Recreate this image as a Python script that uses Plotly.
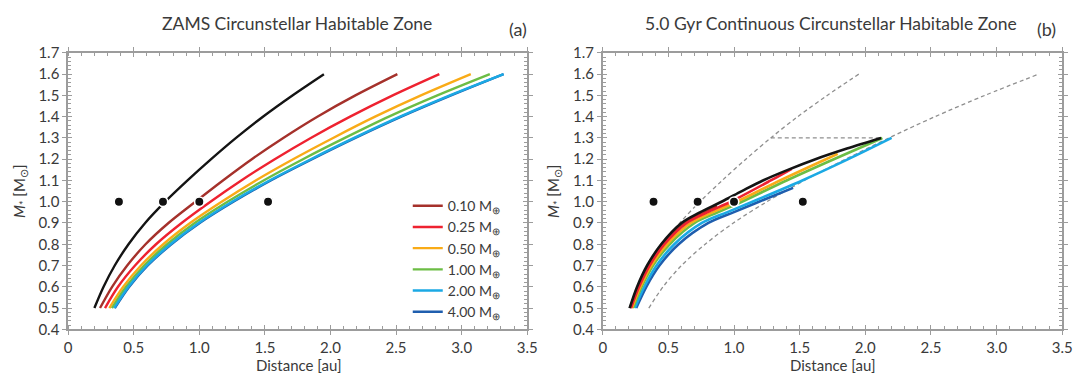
import plotly.graph_objects as go

# ---- data -----------------------------------------------------------------
# Stellar mass grid (solar masses) for the ZAMS habitable-zone curves
mass_zams = [0.5, 0.6, 0.7, 0.8, 0.9, 1.0, 1.1, 1.2, 1.3, 1.4, 1.5, 1.6]

# ZAMS distances [au]
zams_inner = [0.20, 0.27, 0.355, 0.46, 0.587, 0.74, 0.91, 1.09, 1.28, 1.485, 1.71, 1.95]
zams_010 = [0.243, 0.335, 0.45, 0.59, 0.765, 0.97, 1.18, 1.40, 1.64, 1.90, 2.19, 2.51]
zams_025 = [0.281, 0.38, 0.51, 0.67, 0.865, 1.085, 1.32, 1.575, 1.85, 2.15, 2.475, 2.83]
zams_050 = [0.314, 0.42, 0.555, 0.725, 0.93, 1.17, 1.43, 1.715, 2.02, 2.34, 2.69, 3.07]
zams_100 = [0.334, 0.442, 0.58, 0.755, 0.965, 1.215, 1.49, 1.79, 2.11, 2.445, 2.815, 3.215]
zams_200 = [0.351, 0.46, 0.60, 0.78, 0.995, 1.25, 1.535, 1.85, 2.18, 2.53, 2.91, 3.32]
zams_400 = [0.356, 0.466, 0.607, 0.787, 1.003, 1.26, 1.545, 1.86, 2.19, 2.54, 2.92, 3.32]

# 5.0 Gyr continuous habitable zone: each curve has its own mass range
cont_inner_m = [0.5, 0.6, 0.7, 0.8, 0.9, 0.95, 1.0, 1.05, 1.1, 1.15, 1.2, 1.25, 1.3]
cont_inner_d = [0.205, 0.262, 0.338, 0.445, 0.60, 0.74, 0.905, 1.06, 1.22, 1.41, 1.62, 1.86, 2.12]
cont_010_m = [0.5, 0.6, 0.7, 0.8, 0.9, 0.95, 0.98]
cont_010_d = [0.21, 0.27, 0.347, 0.457, 0.62, 0.765, 0.87]
cont_025_m = [0.5, 0.6, 0.7, 0.8, 0.9, 0.95, 1.0, 1.1, 1.155]
cont_025_d = [0.215, 0.277, 0.357, 0.47, 0.64, 0.795, 0.975, 1.28, 1.44]
cont_050_m = [0.5, 0.6, 0.7, 0.8, 0.9, 0.95, 1.0, 1.1, 1.2, 1.225]
cont_050_d = [0.222, 0.287, 0.37, 0.49, 0.67, 0.835, 1.02, 1.35, 1.70, 1.79]
cont_100_m = [0.5, 0.6, 0.7, 0.8, 0.9, 0.95, 1.0, 1.1, 1.2, 1.3]
cont_100_d = [0.23, 0.297, 0.383, 0.51, 0.70, 0.875, 1.06, 1.40, 1.76, 2.13]
cont_200_m = [0.5, 0.6, 0.7, 0.8, 0.9, 0.95, 1.0, 1.1, 1.2, 1.3]
cont_200_d = [0.245, 0.317, 0.41, 0.545, 0.755, 0.945, 1.14, 1.52, 1.87, 2.20]
cont_400_m = [0.5, 0.6, 0.7, 0.8, 0.9, 0.95, 1.0, 1.065]
cont_400_d = [0.255, 0.332, 0.432, 0.578, 0.805, 0.995, 1.19, 1.45]

# mass cut of the continuous zone
cut_mass = [1.3, 1.3]
cut_dist = [1.28, 2.12]

# Solar-system planets (Mercury, Venus, Earth, Mars)
planet_d = [0.387, 0.723, 1.0, 1.524]
planet_m = [1.0, 1.0, 1.0, 1.0]

planet_labels = ["0.10", "0.25", "0.50", "1.00", "2.00", "4.00"]
colors = ["#a5312b", "#ee2230", "#f9ab17", "#6cbd45", "#1ba9e4", "#1f5eae"]

x_ticks = [0, 0.5, 1.0, 1.5, 2.0, 2.5, 3.0, 3.5]
x_ticktext = ["0", "0.5", "1.0", "1.5", "2.0", "2.5", "3.0", "3.5"]
y_ticks = [0.4, 0.5, 0.6, 0.7, 0.8, 0.9, 1.0, 1.1, 1.2, 1.3, 1.4, 1.5, 1.6, 1.7]
y_ticktext = ["%.1f" % v for v in y_ticks]

# ---- figure ---------------------------------------------------------------
W, H = 1092, 384
FONT = "Lato"
TXT = "#3a3a3a"
AX = "#9c9c9c"
LW = 2.4

fig = go.Figure()

def line(x, y, color, xa, ya, width=LW, dash=None, name=None, legend=False, rank=None):
    fig.add_trace(go.Scatter(
        x=x, y=y, mode="lines", xaxis=xa, yaxis=ya,
        line=dict(color=color, width=width, dash=dash, shape="spline", smoothing=0.9),
        name=name, showlegend=legend, legendrank=rank, hoverinfo="skip"))

def dots(xa, ya):
    fig.add_trace(go.Scatter(
        x=planet_d, y=planet_m, mode="markers", xaxis=xa, yaxis=ya,
        marker=dict(color="#111111", size=9.5, line=dict(color="white", width=1.6)),
        showlegend=False, hoverinfo="skip"))

# panel (a): ZAMS
zams_series = [zams_010, zams_025, zams_050, zams_100, zams_200, zams_400]
line(zams_inner, mass_zams, "#141414", "x", "y")
draw_order_a = [0, 1, 2, 3, 5, 4]
for i in draw_order_a:
    line(zams_series[i], mass_zams, colors[i], "x", "y",
         name="%s M<sub>⊕</sub>" % planet_labels[i], legend=True, rank=i + 1)
dots("x", "y")

# panel (b): continuous habitable zone
line(zams_inner, mass_zams, "#8f8f8f", "x2", "y2", width=1.3, dash="4px,3px")
line(zams_200, mass_zams, "#8f8f8f", "x2", "y2", width=1.3, dash="4px,3px")
line(cut_dist, cut_mass, "#8f8f8f", "x2", "y2", width=1.3, dash="4px,3px")
cont_series = [
    (cont_400_d, cont_400_m, 5),
    (cont_200_d, cont_200_m, 4),
    (cont_100_d, cont_100_m, 3),
    (cont_050_d, cont_050_m, 2),
    (cont_010_d, cont_010_m, 0),
    (cont_025_d, cont_025_m, 1),
]
for d, m, i in cont_series:
    line(d, m, colors[i], "x2", "y2", width=2.6)
line(cont_inner_d, cont_inner_m, "#141414", "x2", "y2", width=2.6)
dots("x2", "y2")

# invisible carriers for the overlay axes (inner half of the major ticks)
for xa, ya in (("x3", "y3"), ("x4", "y4")):
    fig.add_trace(go.Scatter(x=[None], y=[None], xaxis=xa, yaxis=ya,
                             showlegend=False, hoverinfo="skip"))

def px(x):
    return x / W

def py(y):
    return 1 - y / H

xa_dom = [px(65), px(530)]
xb_dom = [px(606.5), px(1072)]
y_dom = [py(335), py(45)]

tickfont = dict(family=FONT, size=15, color=TXT)

def xaxis(dom, anchor):
    return dict(domain=dom, anchor=anchor, range=[0, 3.5],
                tickvals=x_ticks, ticktext=x_ticktext, tickfont=tickfont,
                showline=True, linecolor=AX, linewidth=1.6, mirror="ticks",
                ticks="outside", ticklen=4, tickwidth=1.3, tickcolor=AX,
                minor=dict(ticks="inside", dtick=0.1, ticklen=3, tickwidth=1, tickcolor=AX),
                showgrid=False, zeroline=False, fixedrange=True)

def yaxis(dom, anchor):
    return dict(domain=dom, anchor=anchor, range=[0.4, 1.7],
                tickvals=y_ticks, ticktext=y_ticktext, tickfont=tickfont,
                showline=True, linecolor=AX, linewidth=1.6, mirror="ticks",
                ticks="outside", ticklen=4, tickwidth=1.3, tickcolor=AX,
                minor=dict(ticks="inside", dtick=0.02, ticklen=3, tickwidth=1, tickcolor=AX),
                showgrid=False, zeroline=False, fixedrange=True)

def x_inner(over, anchor):
    return dict(overlaying=over, anchor=anchor, range=[0, 3.5], tickvals=x_ticks,
                showticklabels=False, showline=False, mirror="ticks",
                ticks="inside", ticklen=4, tickwidth=1.3, tickcolor=AX,
                showgrid=False, zeroline=False, fixedrange=True)

def y_inner(over, anchor):
    return dict(overlaying=over, anchor=anchor, range=[0.4, 1.7], tickvals=y_ticks,
                showticklabels=False, showline=False, mirror="ticks",
                ticks="inside", ticklen=4, tickwidth=1.3, tickcolor=AX,
                showgrid=False, zeroline=False, fixedrange=True)

annotations = []

def text(x, y, s, size, **kw):
    annotations.append(dict(x=px(x), y=py(y), xref="paper", yref="paper", text=s,
                            xanchor="center", yanchor="middle", showarrow=False,
                            font=dict(family=FONT, size=size, color=TXT), **kw))

text(297, 14, "ZAMS Circunstellar Habitable Zone", 17.5)
text(521, 20, "(a)", 18)
text(838, 14, "5.0 Gyr Continuous Circunstellar Habitable Zone", 17.5)
text(1056, 20, "(b)", 18)
text(298, 372, "Distance [au]", 15)
text(839, 372, "Distance [au]", 15)
ytitle = "<i>M</i><sub>*</sub> [M<sub>⊙</sub>]"
text(16, 190, ytitle, 15, textangle=-90)
text(557, 190, ytitle, 15, textangle=-90)

fig.update_layout(
    width=W, height=H,
    margin=dict(l=0, r=0, t=0, b=0),
    paper_bgcolor="white", plot_bgcolor="white",
    font=dict(family=FONT, color=TXT),
    xaxis=xaxis(xa_dom, "y"), yaxis=yaxis(y_dom, "x"),
    xaxis2=xaxis(xb_dom, "y2"), yaxis2=yaxis(y_dom, "x2"),
    xaxis3=x_inner("x", "y3"), yaxis3=y_inner("y", "x3"),
    xaxis4=x_inner("x2", "y4"), yaxis4=y_inner("y2", "x4"),
    legend=dict(x=px(409), y=py(189), xanchor="left", yanchor="top",
                bgcolor="rgba(0,0,0,0)", borderwidth=0,
                font=dict(family=FONT, size=14, color=TXT),
                traceorder="normal", itemwidth=30, tracegroupgap=0),
    annotations=annotations,
    showlegend=True,
)

fig.write_html("out.html")
